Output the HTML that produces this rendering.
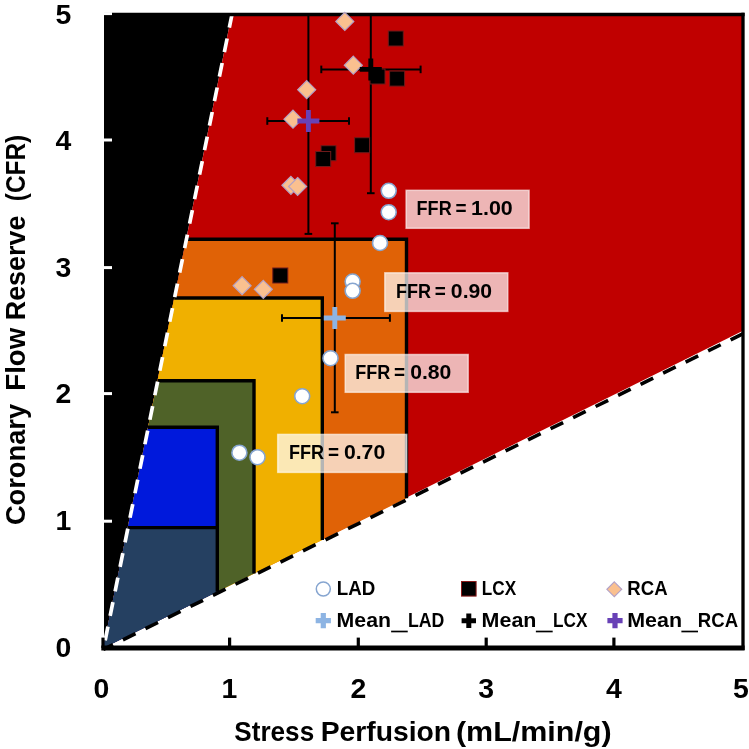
<!DOCTYPE html>
<html lang="en"><head><meta charset="utf-8"><title>CFR vs Stress Perfusion</title>
<style>html,body{margin:0;padding:0;background:#fff}svg{display:block}text{font-family:"Liberation Sans",sans-serif;font-weight:bold;fill:#000}</style></head><body>
<svg width="749" height="749" viewBox="0 0 749 749">
<rect width="749" height="749" fill="#fff"/>
<defs><clipPath id="plot"><rect x="104" y="14" width="639" height="634"/></clipPath></defs>
<polygon points="103.3,648.0 104,648.0 104,14.0 231.8,14.0" fill="#000"/>
<polygon points="103.3,648.0 231.8,14.0 742.5,14.0 742.5,330.9" fill="#C00000"/>
<polygon points="103.3,648.0 186.2,239.2 406.5,239.2 406.5,498.3" fill="#E06206"/>
<polygon points="103.3,648.0 174.2,298.0 322.3,298.0 322.3,539.9" fill="#F0B000"/>
<polygon points="103.3,648.0 157.5,380.7 254.0,380.7 254.0,573.6" fill="#4F6228"/>
<polygon points="103.3,648.0 148.0,427.3 217.3,427.3 217.3,591.7" fill="#0019DC"/>
<polygon points="103.3,648.0 127.7,527.7 217.3,527.7 217.3,591.7" fill="#254061"/>
<polyline points="186.2,239.2 406.5,239.2 406.5,498.3" fill="none" stroke="#000" stroke-width="3.4" stroke-linejoin="miter"/>
<polyline points="174.2,298.0 322.3,298.0 322.3,539.9" fill="none" stroke="#000" stroke-width="3.4" stroke-linejoin="miter"/>
<polyline points="157.5,380.7 254.0,380.7 254.0,573.6" fill="none" stroke="#000" stroke-width="3.4" stroke-linejoin="miter"/>
<polyline points="148.0,427.3 217.3,427.3 217.3,591.7" fill="none" stroke="#000" stroke-width="3.4" stroke-linejoin="miter"/>
<line x1="127.7" y1="527.7" x2="217.3" y2="527.7" stroke="#000" stroke-width="3.2"/>
<line x1="232.10000000000002" y1="14.0" x2="103.6" y2="648.0" stroke="#fff" stroke-width="3.7" stroke-dasharray="14 11" stroke-dashoffset="0"/>
<line x1="743.2" y1="333.65" x2="103.3" y2="649.5" stroke="#000" stroke-width="3.6" stroke-dasharray="14 11.1" stroke-dashoffset="0"/>
<line x1="104" y1="14.5" x2="744.6" y2="14.5" stroke="#000" stroke-width="3.5"/>
<line x1="743" y1="12.8" x2="743" y2="650" stroke="#000" stroke-width="3.3"/>
<line x1="101.3" y1="648" x2="744.6" y2="648" stroke="#000" stroke-width="5.2"/>
<line x1="103" y1="637.6" x2="103" y2="648" stroke="#000" stroke-width="3.2"/>
<line x1="229.6" y1="637.6" x2="229.6" y2="648" stroke="#000" stroke-width="3.2"/>
<line x1="358.3" y1="637.6" x2="358.3" y2="648" stroke="#000" stroke-width="3.2"/>
<line x1="486.2" y1="637.6" x2="486.2" y2="648" stroke="#000" stroke-width="3.2"/>
<line x1="613.9" y1="637.6" x2="613.9" y2="648" stroke="#000" stroke-width="3.2"/>
<line x1="103" y1="13.6" x2="112" y2="13.6" stroke="#fff" stroke-width="3"/>
<line x1="103" y1="140.0" x2="112" y2="140.0" stroke="#fff" stroke-width="3"/>
<line x1="103" y1="267.6" x2="112" y2="267.6" stroke="#fff" stroke-width="3"/>
<line x1="103" y1="393.6" x2="112" y2="393.6" stroke="#fff" stroke-width="3"/>
<line x1="103" y1="521.2" x2="112" y2="521.2" stroke="#fff" stroke-width="3"/>
<g stroke="#000" stroke-width="2" fill="none" clip-path="url(#plot)"><line x1="267.3" y1="121" x2="349" y2="121"/><line x1="308.4" y1="-20" x2="308.4" y2="233.9"/><line x1="267.3" y1="117.2" x2="267.3" y2="124.8"/><line x1="349" y1="117.2" x2="349" y2="124.8"/><line x1="304.59999999999997" y1="-20" x2="312.2" y2="-20"/><line x1="304.59999999999997" y1="233.9" x2="312.2" y2="233.9"/></g>
<g stroke="#000" stroke-width="2" fill="none" clip-path="url(#plot)"><line x1="321.3" y1="69.4" x2="420.6" y2="69.4"/><line x1="370.8" y1="-60" x2="370.8" y2="193.2"/><line x1="321.3" y1="65.60000000000001" x2="321.3" y2="73.2"/><line x1="420.6" y1="65.60000000000001" x2="420.6" y2="73.2"/><line x1="367.0" y1="-60" x2="374.6" y2="-60"/><line x1="367.0" y1="193.2" x2="374.6" y2="193.2"/></g>
<g stroke="#000" stroke-width="2" fill="none" clip-path="url(#plot)"><line x1="282" y1="318" x2="389.9" y2="318"/><line x1="334.8" y1="223.3" x2="334.8" y2="412.3"/><line x1="282" y1="314.2" x2="282" y2="321.8"/><line x1="389.9" y1="314.2" x2="389.9" y2="321.8"/><line x1="331.0" y1="223.3" x2="338.6" y2="223.3"/><line x1="331.0" y1="412.3" x2="338.6" y2="412.3"/></g>
<circle cx="388.7" cy="190.8" r="7.5" fill="#fff" stroke="#86A5D0" stroke-width="1.6"/>
<circle cx="388.7" cy="212.2" r="7.5" fill="#fff" stroke="#86A5D0" stroke-width="1.6"/>
<circle cx="380" cy="243" r="7.5" fill="#fff" stroke="#86A5D0" stroke-width="1.6"/>
<circle cx="352.6" cy="281.5" r="7.5" fill="#fff" stroke="#86A5D0" stroke-width="1.6"/>
<circle cx="352.6" cy="290.8" r="7.5" fill="#fff" stroke="#86A5D0" stroke-width="1.6"/>
<circle cx="330.5" cy="358.2" r="7.5" fill="#fff" stroke="#86A5D0" stroke-width="1.6"/>
<circle cx="302.2" cy="396.2" r="7.5" fill="#fff" stroke="#86A5D0" stroke-width="1.6"/>
<circle cx="239.4" cy="452.7" r="7.5" fill="#fff" stroke="#86A5D0" stroke-width="1.6"/>
<circle cx="257.5" cy="457.2" r="7.5" fill="#fff" stroke="#86A5D0" stroke-width="1.6"/>
<rect x="388.3" y="31.0" width="15" height="15" fill="#000" stroke="#6E1A1A" stroke-width="1"/>
<rect x="389.6" y="71.1" width="15" height="15" fill="#000" stroke="#6E1A1A" stroke-width="1"/>
<rect x="370.0" y="69.0" width="15" height="15" fill="#000" stroke="#6E1A1A" stroke-width="1"/>
<rect x="354.6" y="137.7" width="15" height="15" fill="#000" stroke="#6E1A1A" stroke-width="1"/>
<rect x="321.0" y="145.7" width="15" height="15" fill="#000" stroke="#6E1A1A" stroke-width="1"/>
<rect x="315.7" y="151.5" width="15" height="15" fill="#000" stroke="#6E1A1A" stroke-width="1"/>
<rect x="272.8" y="268.0" width="15" height="15" fill="#000" stroke="#6E1A1A" stroke-width="1"/>
<polygon points="344.8,12.399999999999999 353.8,21.4 344.8,30.4 335.8,21.4" fill="#FAC08F" stroke="#B3A2C7" stroke-width="1.2"/>
<polygon points="353.3,56.2 362.3,65.2 353.3,74.2 344.3,65.2" fill="#FAC08F" stroke="#B3A2C7" stroke-width="1.2"/>
<polygon points="306.7,80.7 315.7,89.7 306.7,98.7 297.7,89.7" fill="#FAC08F" stroke="#B3A2C7" stroke-width="1.2"/>
<polygon points="293,110.2 302.0,119.2 293,128.2 284.0,119.2" fill="#FAC08F" stroke="#B3A2C7" stroke-width="1.2"/>
<polygon points="290.9,176.3 299.9,185.3 290.9,194.3 281.9,185.3" fill="#FAC08F" stroke="#B3A2C7" stroke-width="1.2"/>
<polygon points="297.6,177.5 306.6,186.5 297.6,195.5 288.6,186.5" fill="#FAC08F" stroke="#B3A2C7" stroke-width="1.2"/>
<polygon points="242.1,276.7 251.1,285.7 242.1,294.7 233.1,285.7" fill="#FAC08F" stroke="#B3A2C7" stroke-width="1.2"/>
<polygon points="263.3,280.3 272.3,289.3 263.3,298.3 254.3,289.3" fill="#FAC08F" stroke="#B3A2C7" stroke-width="1.2"/>
<path d="M323.8,318H345.8M334.8,307V329" stroke="#8DB4E3" stroke-width="4.9" fill="none"/>
<path d="M359.8,69.4H381.8M370.8,58.400000000000006V80.4" stroke="#000" stroke-width="4.9" fill="none"/>
<path d="M297.4,121H319.4M308.4,110V132" stroke="#6841B6" stroke-width="4.9" fill="none"/>
<rect x="406.1" y="190.3" width="123" height="38" fill="#fff" fill-opacity="0.71" stroke="#fff" stroke-opacity="0.6" stroke-width="1.5"/><text y="214.7" font-size="19.5"><tspan x="416.61" textLength="35.05" lengthAdjust="spacingAndGlyphs">FFR</tspan> <tspan x="455.52" textLength="11.05" lengthAdjust="spacingAndGlyphs">=</tspan> <tspan x="471.07" textLength="41.69" lengthAdjust="spacingAndGlyphs">1.00</tspan></text>
<rect x="384.8" y="272.8" width="123" height="38.6" fill="#fff" fill-opacity="0.71" stroke="#fff" stroke-opacity="0.6" stroke-width="1.5"/><text y="298.2" font-size="19.5"><tspan x="395.91" textLength="35.05" lengthAdjust="spacingAndGlyphs">FFR</tspan> <tspan x="434.82" textLength="11.05" lengthAdjust="spacingAndGlyphs">=</tspan> <tspan x="450.87" textLength="41.18" lengthAdjust="spacingAndGlyphs">0.90</tspan></text>
<rect x="345.2" y="354.5" width="123" height="37.8" fill="#fff" fill-opacity="0.71" stroke="#fff" stroke-opacity="0.6" stroke-width="1.5"/><text y="378.6" font-size="19.5"><tspan x="355.21" textLength="35.05" lengthAdjust="spacingAndGlyphs">FFR</tspan> <tspan x="394.12" textLength="11.05" lengthAdjust="spacingAndGlyphs">=</tspan> <tspan x="410.17" textLength="41.18" lengthAdjust="spacingAndGlyphs">0.80</tspan></text>
<rect x="277.7" y="434.4" width="129" height="38" fill="#fff" fill-opacity="0.71" stroke="#fff" stroke-opacity="0.6" stroke-width="1.5"/><text y="458.5" font-size="19.5"><tspan x="289.01" textLength="35.05" lengthAdjust="spacingAndGlyphs">FFR</tspan> <tspan x="327.92" textLength="11.05" lengthAdjust="spacingAndGlyphs">=</tspan> <tspan x="343.97" textLength="41.18" lengthAdjust="spacingAndGlyphs">0.70</tspan></text>
<circle cx="323.3" cy="589" r="7.0" fill="#fff" stroke="#86A5D0" stroke-width="1.5"/>
<rect x="461.5" y="581.5" width="14.6" height="14.6" fill="#000" stroke="#8B1A1A" stroke-width="1"/>
<polygon points="614.3,581.9 621.6999999999999,589.3 614.3,596.6999999999999 606.9,589.3" fill="#FAC08F" stroke="#B3A2C7" stroke-width="1.2"/>
<path d="M315.7,620.6H330.90000000000003M323.3,613.0V628.2" stroke="#8DB4E3" stroke-width="5.2" fill="none"/>
<path d="M461.6,620.8H476.0M468.8,613.5999999999999V628.0" stroke="#000" stroke-width="5" fill="none"/>
<path d="M607.4,620.6H622.6M615,613.0V628.2" stroke="#6841B6" stroke-width="5.2" fill="none"/>
<text y="595" font-size="19.5"><tspan x="336.76" textLength="38.51" lengthAdjust="spacingAndGlyphs">LAD</tspan></text>
<text y="595" font-size="19.5"><tspan x="481.87" textLength="34.37" lengthAdjust="spacingAndGlyphs">LCX</tspan></text>
<text y="595" font-size="19.5"><tspan x="627.37" textLength="40.22" lengthAdjust="spacingAndGlyphs">RCA</tspan></text>
<text y="627" font-size="19.5"><tspan x="336.59" textLength="54.43" lengthAdjust="spacingAndGlyphs">Mean</tspan><tspan x="391.97" dy="1.8" stroke="#000" stroke-width="0.9" textLength="14.90" lengthAdjust="spacingAndGlyphs">_</tspan><tspan x="407.93" dy="-1.8" textLength="36.40" lengthAdjust="spacingAndGlyphs">LAD</tspan></text>
<text y="627" font-size="19.5"><tspan x="481.58" textLength="54.85" lengthAdjust="spacingAndGlyphs">Mean</tspan><tspan x="536.77" dy="1.8" stroke="#000" stroke-width="0.9" textLength="15.09" lengthAdjust="spacingAndGlyphs">_</tspan><tspan x="552.97" dy="-1.8" textLength="34.37" lengthAdjust="spacingAndGlyphs">LCX</tspan></text>
<text y="627" font-size="19.5"><tspan x="627.18" textLength="54.85" lengthAdjust="spacingAndGlyphs">Mean</tspan><tspan x="682.37" dy="1.8" stroke="#000" stroke-width="0.9" textLength="14.90" lengthAdjust="spacingAndGlyphs">_</tspan><tspan x="697.87" dy="-1.8" textLength="40.22" lengthAdjust="spacingAndGlyphs">RCA</tspan></text>
<text x="101.3" y="698.3" font-size="28.4" text-anchor="middle">0</text>
<text x="229.4" y="698.3" font-size="28.4" text-anchor="middle">1</text>
<text x="358.3" y="698.3" font-size="28.4" text-anchor="middle">2</text>
<text x="486.2" y="698.3" font-size="28.4" text-anchor="middle">3</text>
<text x="613.9" y="698.3" font-size="28.4" text-anchor="middle">4</text>
<text x="741" y="698.3" font-size="28.4" text-anchor="middle">5</text>
<text x="63.4" y="657.0" font-size="28.4" text-anchor="middle">0</text>
<text x="63.4" y="529.8" font-size="28.4" text-anchor="middle">1</text>
<text x="63.4" y="403.0" font-size="28.4" text-anchor="middle">2</text>
<text x="63.4" y="277.0" font-size="28.4" text-anchor="middle">3</text>
<text x="63.4" y="149.8" font-size="28.4" text-anchor="middle">4</text>
<text x="63.4" y="23.7" font-size="28.4" text-anchor="middle">5</text>
<text y="740.5" font-size="28.4"><tspan x="234.37" textLength="79.79" lengthAdjust="spacingAndGlyphs">Stress</tspan> <tspan x="320.63" textLength="130.52" lengthAdjust="spacingAndGlyphs">Perfusion</tspan> <tspan x="455.91" textLength="155.70" lengthAdjust="spacingAndGlyphs">(mL/min/g)</tspan></text>
<text transform="translate(25.2,524) rotate(-90)" font-size="28.2"><tspan x="-1.12" textLength="121.26" lengthAdjust="spacingAndGlyphs">Coronary</tspan> <tspan x="133.27" textLength="63.05" lengthAdjust="spacingAndGlyphs">Flow</tspan> <tspan x="203.72" textLength="104.69" lengthAdjust="spacingAndGlyphs">Reserve</tspan> <tspan x="322.80" textLength="66.40" lengthAdjust="spacingAndGlyphs">(CFR)</tspan></text>
</svg></body></html>
